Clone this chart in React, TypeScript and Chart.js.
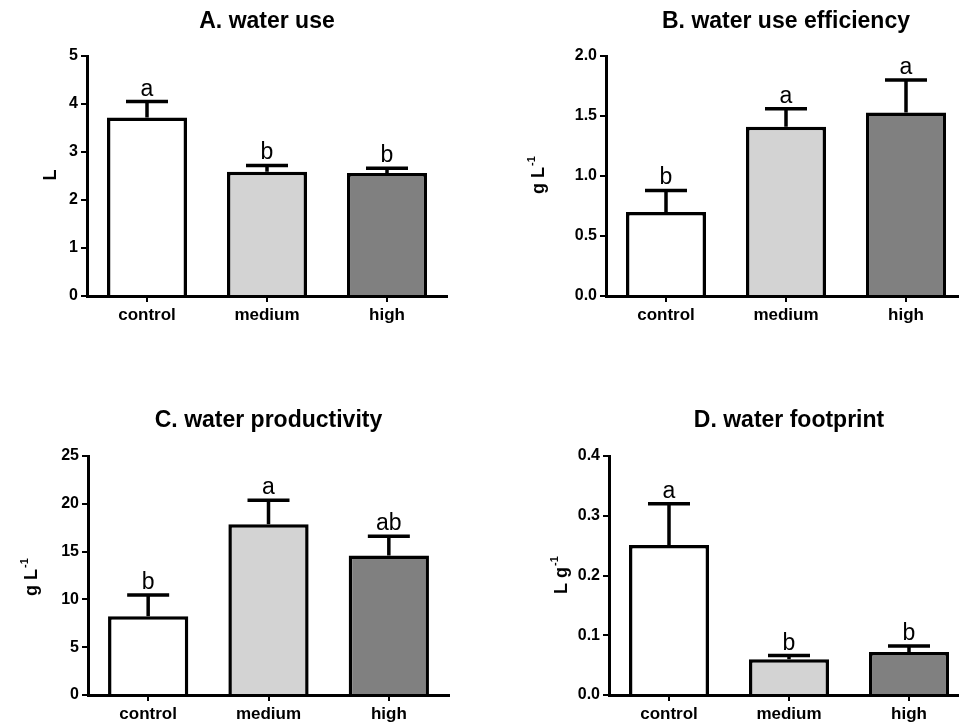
import React, { useEffect, useRef } from "react";
import { Chart, registerables } from "chart.js";

Chart.register(...registerables);

const FONT = "'Liberation Sans', Arial, Helvetica, sans-serif";

const categories = ["control", "medium", "high"];
const barColors = ["#ffffff", "#d3d3d3", "#808080"];

// A. water use
const useMeans = [3.72, 2.59, 2.56];
const useErrors = [0.33, 0.13, 0.1];
const useLetters = ["a", "b", "b"];
const useTicks = [0, 1, 2, 3, 4, 5];
const useTickLabels = ["0", "1", "2", "3", "4", "5"];

// B. water use efficiency
const wueMeans = [0.7, 1.41, 1.53];
const wueErrors = [0.18, 0.15, 0.27];
const wueLetters = ["b", "a", "a"];
const wueTicks = [0, 0.5, 1.0, 1.5, 2.0];
const wueTickLabels = ["0.0", "0.5", "1.0", "1.5", "2.0"];

// C. water productivity
const wpMeans = [8.25, 17.87, 14.6];
const wpErrors = [2.2, 2.5, 2.0];
const wpLetters = ["b", "a", "ab"];
const wpTicks = [0, 5, 10, 15, 20, 25];
const wpTickLabels = ["0", "5", "10", "15", "20", "25"];

// D. water footprint
const wfMeans = [0.251, 0.06, 0.072];
const wfErrors = [0.069, 0.006, 0.01];
const wfLetters = ["a", "b", "b"];
const wfTicks = [0, 0.1, 0.2, 0.3, 0.4];
const wfTickLabels = ["0.0", "0.1", "0.2", "0.3", "0.4"];

type PanelProps = {
  left: number;
  top: number;
  width: number;
  height: number;
  area: { l: number; r: number; t: number; b: number };
  title: string;
  titleY: number;
  yMain: string;
  ySup: string;
  yLabelX: number;
  yLabelY: number;
  means: number[];
  errors: number[];
  letters: string[];
  ticks: number[];
  tickLabels: string[];
};

function Panel(p: PanelProps) {
  const ref = useRef<HTMLCanvasElement | null>(null);
  useEffect(() => {
    if (!ref.current) return;
    const overlay = {
      id: "overlay" + p.title,
      afterDatasetsDraw(chart: any) {
        const ctx = chart.ctx;
        const meta = chart.getDatasetMeta(0);
        const ys = chart.scales.y;
        ctx.save();
        ctx.strokeStyle = "#000";
        ctx.fillStyle = "#000";
        ctx.lineWidth = 3.5;
        meta.data.forEach((bar: any, i: number) => {
          const x = bar.x;
          const yBar = bar.y;
          const yTop = ys.getPixelForValue(p.means[i] + p.errors[i]);
          ctx.beginPath();
          ctx.moveTo(x, yBar);
          ctx.lineTo(x, yTop);
          ctx.moveTo(x - 21, yTop);
          ctx.lineTo(x + 21, yTop);
          ctx.stroke();
          ctx.font = "23px " + FONT;
          ctx.textAlign = "center";
          ctx.textBaseline = "alphabetic";
          ctx.fillText(p.letters[i], x, yTop - 6);
        });
        // title
        const ca = chart.chartArea;
        ctx.font = "bold 23px " + FONT;
        ctx.textAlign = "center";
        ctx.textBaseline = "alphabetic";
        ctx.fillText(p.title, (ca.left + ca.right) / 2, p.titleY);
        // y label (rotated, with superscript)
        ctx.translate(p.yLabelX, p.yLabelY);
        ctx.rotate(-Math.PI / 2);
        ctx.font = "bold 18px " + FONT;
        const wMain = ctx.measureText(p.yMain).width;
        ctx.font = "bold 11px " + FONT;
        const wSup = p.ySup ? ctx.measureText(p.ySup).width + 1 : 0;
        const start = -(wMain + wSup) / 2;
        ctx.textAlign = "left";
        ctx.textBaseline = "alphabetic";
        ctx.font = "bold 18px " + FONT;
        ctx.fillText(p.yMain, start, 6);
        if (p.ySup) {
          ctx.font = "bold 11px " + FONT;
          ctx.fillText(p.ySup, start + wMain + 1, -3);
        }
        ctx.restore();
      },
    };
    const chart = new Chart(ref.current, {
      type: "bar",
      data: {
        labels: categories,
        datasets: [
          {
            data: p.means,
            backgroundColor: barColors,
            borderColor: "#000",
            borderWidth: 3.5,
            barPercentage: 0.667,
            categoryPercentage: 1,
          },
        ],
      },
      options: {
        animation: false,
        responsive: false,
        events: [],
        layout: {
          padding: { left: 0, top: p.area.t, right: p.width - p.area.r, bottom: 0 },
        },
        plugins: {
          legend: { display: false },
          title: { display: false },
          tooltip: { enabled: false },
        },
        scales: {
          x: {
            offset: true,
            grid: {
              display: true,
              offset: false,
              drawOnChartArea: false,
              drawTicks: true,
              tickLength: 6,
              color: "#000",
              lineWidth: 2,
            },
            border: { display: true, color: "#000", width: 3 },
            ticks: {
              color: "#000",
              padding: 3,
              font: { family: FONT, size: 17, weight: "bold" },
              maxRotation: 0,
            },
            afterFit(scale: any) {
              scale.height = p.height - p.area.b;
            },
          },
          y: {
            min: p.ticks[0],
            max: p.ticks[p.ticks.length - 1],
            afterBuildTicks(scale: any) {
              scale.ticks = p.ticks.map((v) => ({ value: v }));
            },
            grid: {
              display: true,
              drawOnChartArea: false,
              drawTicks: true,
              tickLength: 6,
              color: "#000",
              lineWidth: 2,
            },
            border: { display: true, color: "#000", width: 3 },
            ticks: {
              color: "#000",
              padding: 3,
              font: { family: FONT, size: 16, weight: "bold" },
              callback: (_v: any, i: number) => p.tickLabels[i],
            },
            afterFit(scale: any) {
              scale.width = p.area.l;
            },
          },
        },
      } as any,
      plugins: [overlay],
    });
    return () => chart.destroy();
  }, []);
  return (
    <canvas
      ref={ref}
      width={p.width}
      height={p.height}
      style={{ position: "absolute", left: p.left, top: p.top, width: p.width, height: p.height }}
    />
  );
}

export default function App() {
  return (
    <div
      style={{
        position: "fixed",
        left: 0,
        top: 0,
        width: 959,
        height: 723,
        overflow: "hidden",
        background: "#fff",
      }}
    >
      <Panel
        left={0}
        top={0}
        width={480}
        height={360}
        area={{ l: 87, r: 447, t: 56, b: 296 }}
        title="A. water use"
        titleY={28}
        yMain="L"
        ySup=""
        yLabelX={50}
        yLabelY={175}
        means={useMeans}
        errors={useErrors}
        letters={useLetters}
        ticks={useTicks}
        tickLabels={useTickLabels}
      />
      <Panel
        left={480}
        top={0}
        width={495}
        height={360}
        area={{ l: 126, r: 486, t: 56, b: 296 }}
        title="B. water use efficiency"
        titleY={28}
        yMain="g L"
        ySup="-1"
        yLabelX={58}
        yLabelY={175}
        means={wueMeans}
        errors={wueErrors}
        letters={wueLetters}
        ticks={wueTicks}
        tickLabels={wueTickLabels}
      />
      <Panel
        left={0}
        top={360}
        width={480}
        height={363}
        area={{ l: 88, r: 449, t: 96, b: 335 }}
        title="C. water productivity"
        titleY={67}
        yMain="g L"
        ySup="-1"
        yLabelX={31}
        yLabelY={217}
        means={wpMeans}
        errors={wpErrors}
        letters={wpLetters}
        ticks={wpTicks}
        tickLabels={wpTickLabels}
      />
      <Panel
        left={480}
        top={360}
        width={495}
        height={363}
        area={{ l: 129, r: 489, t: 96, b: 335 }}
        title="D. water footprint"
        titleY={67}
        yMain="L g"
        ySup="-1"
        yLabelX={81}
        yLabelY={215}
        means={wfMeans}
        errors={wfErrors}
        letters={wfLetters}
        ticks={wfTicks}
        tickLabels={wfTickLabels}
      />
    </div>
  );
}
